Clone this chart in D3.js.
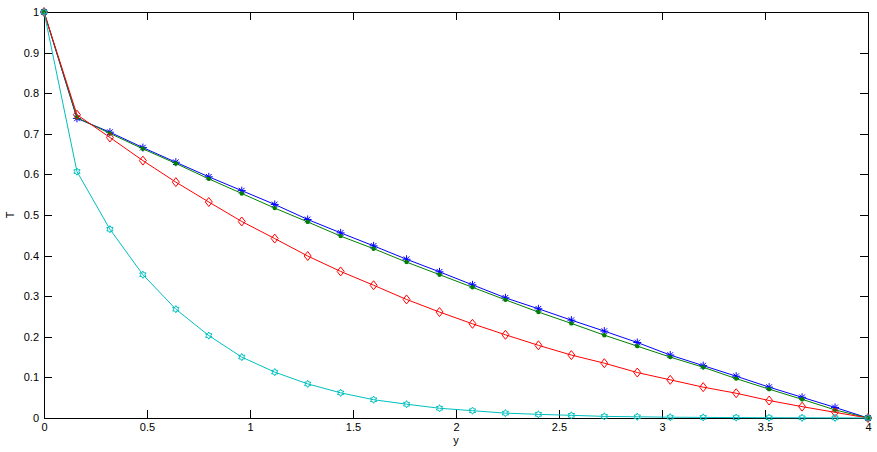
<!DOCTYPE html>
<html>
<head>
<meta charset="utf-8">
<script src="https://cdn.jsdelivr.net/npm/d3@7"></script>
<style>
  body { margin: 0; background: #fff; }
  svg { display: block; font-family: "Liberation Sans", Arial, sans-serif; }
  .axis text { font-size: 11px; fill: #000; }
  .axis path, .axis line { stroke: #000; shape-rendering: crispEdges; }
</style>
</head>
<body>
<svg id="plot" width="877" height="452"></svg>
<script>
const svg = d3.select("svg#plot");
const width = +svg.attr("width");
const height = +svg.attr("height");

// grid points, step 0.16
const xs = [0, 0.16, 0.32, 0.48, 0.64, 0.8, 0.96, 1.12, 1.28, 1.44, 1.6, 1.76, 1.92,
            2.08, 2.24, 2.4, 2.56, 2.72, 2.88, 3.04, 3.2, 3.36, 3.52, 3.68, 3.84, 4];

const blueT  = [1, 0.738, 0.704, 0.666, 0.630, 0.594, 0.560, 0.526, 0.489, 0.456, 0.424, 0.391, 0.360,
                0.328, 0.296, 0.269, 0.241, 0.214, 0.186, 0.155, 0.129, 0.103, 0.076, 0.051, 0.026, 0];
const greenT = [1, 0.740, 0.701, 0.663, 0.627, 0.589, 0.553, 0.517, 0.483, 0.448, 0.417, 0.384, 0.353,
                0.322, 0.291, 0.261, 0.233, 0.204, 0.177, 0.150, 0.125, 0.097, 0.071, 0.046, 0.020, 0];
const redT   = [1, 0.747, 0.691, 0.634, 0.581, 0.532, 0.484, 0.442, 0.399, 0.361, 0.327, 0.292, 0.261,
                0.232, 0.205, 0.179, 0.155, 0.135, 0.112, 0.094, 0.076, 0.061, 0.043, 0.028, 0.014, 0];
const cyanT  = [1, 0.607, 0.465, 0.353, 0.268, 0.203, 0.150, 0.113, 0.084, 0.062, 0.045, 0.034, 0.024,
                0.018, 0.012, 0.009, 0.0066, 0.004, 0.003, 0.002, 0.0015, 0.001, 0.0007, 0.0005, 0.0003, 0];

const xTicks = [0, 0.5, 1, 1.5, 2, 2.5, 3, 3.5, 4];
const yTicks = [0, 0.1, 0.2, 0.3, 0.4, 0.5, 0.6, 0.7, 0.8, 0.9, 1];
const xTickLabels = ["0", "0.5", "1", "1.5", "2", "2.5", "3", "3.5", "4"];
const yTickLabels = ["0", "0.1", "0.2", "0.3", "0.4", "0.5", "0.6", "0.7", "0.8", "0.9", "1"];

const pLeft = 44, pRight = 868, pTop = 12, pBottom = 418;

const x = d3.scaleLinear().domain([0, 4]).range([pLeft, pRight]);
const y = d3.scaleLinear().domain([0, 1]).range([pBottom, pTop]);

// axes box (matlab style, ticks pointing in)
svg.append("g").attr("class", "axis")
    .attr("transform", "translate(0," + pBottom + ")")
    .call(d3.axisBottom(x).tickValues(xTicks).tickSizeInner(-8).tickSizeOuter(0).tickPadding(5)
      .tickFormat((d, i) => xTickLabels[i]));
svg.append("g").attr("class", "axis")
    .attr("transform", "translate(0," + pTop + ")")
    .call(d3.axisTop(x).tickValues(xTicks).tickSizeInner(-8).tickSizeOuter(0).tickFormat(""));
svg.append("g").attr("class", "axis")
    .attr("transform", "translate(" + pLeft + ",0)")
    .call(d3.axisLeft(y).tickValues(yTicks).tickSizeInner(-8).tickSizeOuter(0).tickPadding(5)
      .tickFormat((d, i) => yTickLabels[i]));
svg.append("g").attr("class", "axis")
    .attr("transform", "translate(" + pRight + ",0)")
    .call(d3.axisRight(y).tickValues(yTicks).tickSizeInner(-8).tickSizeOuter(0).tickFormat(""));

svg.selectAll(".axis").attr("font-family", null).attr("font-size", null);

svg.append("text")
    .attr("x", (pLeft + pRight) / 2).attr("y", 444)
    .attr("text-anchor", "middle").attr("font-size", 11)
    .text("y");
svg.append("text")
    .attr("transform", "translate(14," + ((pTop + pBottom) / 2) + ") rotate(-90)")
    .attr("text-anchor", "middle").attr("font-size", 11)
    .text("T");

// marker shapes
function star(r) {
  const a = r * 0.7071;
  return `M${-r},0L${r},0M0,${-r}L0,${r}` +
         `M${-a},${-a}L${a},${a}M${-a},${a}L${a},${-a}`;
}
function diamond(w, h) {
  return `M0,${-h}L${w},0L0,${h}L${-w},0Z`;
}
function hexagram(r) {
  let pts = [];
  for (let k = 0; k < 12; k++) {
    const ang = -Math.PI / 2 + k * Math.PI / 6;
    const rr = (k % 2 == 0) ? r : r * 0.58;
    pts.push([rr * Math.cos(ang), rr * Math.sin(ang)]);
  }
  return "M" + pts.map(p => p[0].toFixed(2) + "," + p[1].toFixed(2)).join("L") + "Z";
}

const series = [
  { vals: blueT,  color: "#0000ff", marker: "star" },
  { vals: greenT, color: "#008000", marker: "dot" },
  { vals: redT,   color: "#ff0000", marker: "diamond" },
  { vals: cyanT,  color: "#00bfbf", marker: "hex" }
];

const line = d3.line()
    .x(d => x(d[0]))
    .y(d => y(d[1]));

series.forEach(function (s) {
  const pts = xs.map((v, i) => [v, s.vals[i]]);
  const g = svg.append("g");
  g.append("path")
      .attr("d", line(pts))
      .attr("fill", "none")
      .attr("stroke", s.color)
      .attr("stroke-width", 1);

  const m = g.selectAll(".m").data(pts).enter();
  if (s.marker == "dot") {
    m.append("circle")
        .attr("cx", d => x(d[0]))
        .attr("cy", d => y(d[1]))
        .attr("r", 2.2)
        .attr("fill", s.color);
  } else {
    let shape = "";
    if (s.marker == "star") shape = star(4);
    if (s.marker == "diamond") shape = diamond(3.5, 4.5);
    if (s.marker == "hex") shape = hexagram(3.6);
    m.append("path")
        .attr("transform", d => "translate(" + x(d[0]) + "," + y(d[1]) + ")")
        .attr("d", shape)
        .attr("fill", "none")
        .attr("stroke", s.color)
        .attr("stroke-width", 1);
  }
});
</script>
</body>
</html>
